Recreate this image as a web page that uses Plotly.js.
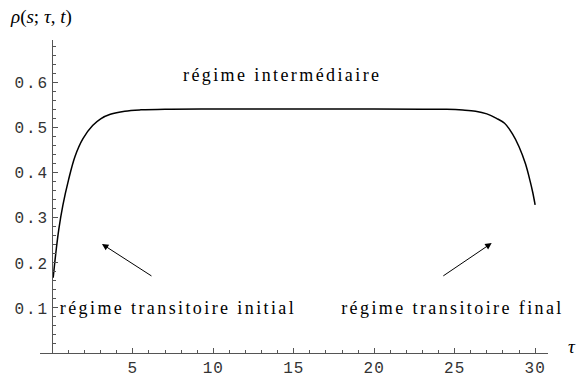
<!DOCTYPE html>
<html>
<head>
<meta charset="utf-8">
<script src="https://cdn.plot.ly/plotly-3.0.1.min.js"></script>
<style>
html,body{margin:0;padding:0;background:#fff;}
#chart{width:576px;height:378px;}
g.annotation[data-index="2"] text,
g.annotation[data-index="3"] text,
g.annotation[data-index="4"] text { letter-spacing: 2.4px; }
.xtick text { letter-spacing: 1px; }
.ytick text { letter-spacing: 2px; }
</style>
</head>
<body>
<div id="chart"></div>
<script>
// Curve data
const tau = [0.05, 0.2, 0.4, 0.65, 1.0, 1.4, 1.9, 2.5, 3.0, 3.6, 4.5, 5.5, 7, 10, 15, 20, 23, 24.5, 25.5, 26.3, 27.0, 27.6, 28.1, 28.6, 29.0, 29.4, 29.7, 29.85, 30.0];
const rho = [0.167, 0.218, 0.275, 0.328, 0.384, 0.436, 0.476, 0.505, 0.520, 0.530, 0.537, 0.540, 0.5415, 0.542, 0.542, 0.542, 0.5415, 0.541, 0.5395, 0.537, 0.531, 0.521, 0.510, 0.486, 0.458, 0.420, 0.380, 0.357, 0.329];

const xTickVals = [5, 10, 15, 20, 25, 30];
const xTickText = ['5', '10', '15', '20', '25', '30'];
const yTickVals = [0.1, 0.2, 0.3, 0.4, 0.5, 0.6];
const yTickText = ['0.1', '0.2', '0.3', '0.4', '0.5', '0.6'];

const xRange = [-0.77, 30.8];
const yRange = [0, 0.695];

const tickFont = {family: '"Liberation Mono", "DejaVu Sans Mono", monospace', size: 16, color: '#333'};
const textFont = {family: '"Liberation Serif", "DejaVu Serif", "Times New Roman", serif', size: 18, color: '#000'};
const titleFont = {family: '"Liberation Serif", "DejaVu Serif", "Times New Roman", serif', size: 19, color: '#000'};

const trace = {
  x: tau, y: rho, type: 'scatter', mode: 'lines',
  line: {color: '#000', width: 1.5, shape: 'spline', smoothing: 1},
  hoverinfo: 'none', cliponaxis: false
};

const layout = {
  width: 576, height: 378,
  margin: {l: 40, r: 28, t: 40, b: 25},
  paper_bgcolor: '#fff', plot_bgcolor: '#fff',
  showlegend: false,
  font: {family: '"Liberation Serif", serif'},
  xaxis: {
    range: xRange, showgrid: false, zeroline: false,
    showline: true, linecolor: '#555', linewidth: 1,
    tickvals: xTickVals, ticktext: xTickText,
    ticks: 'inside', ticklen: 5, tickcolor: '#555', tickwidth: 1,
    tickfont: tickFont,
    minor: {ticks: 'inside', ticklen: 3, dtick: 1, tick0: 0, tickcolor: '#555', tickwidth: 1, showgrid: false}
  },
  yaxis: {
    range: yRange, showgrid: false, zeroline: false,
    anchor: 'free', position: (0 - xRange[0]) / (xRange[1] - xRange[0]),
    showline: true, linecolor: '#555', linewidth: 1,
    tickvals: yTickVals, ticktext: yTickText,
    ticks: 'inside', ticklen: 5, tickcolor: '#555', tickwidth: 1,
    tickfont: tickFont,
    minor: {ticks: 'inside', ticklen: 3, dtick: 0.02, tick0: 0, tickcolor: '#555', tickwidth: 1, showgrid: false}
  },
  annotations: [
    {xref: 'paper', yref: 'paper', x: -0.063, y: 1.072, xanchor: 'left', yanchor: 'middle',
     text: '<i>ρ</i>(<i>s</i>; <i>τ</i>, <i>t</i>)', showarrow: false, font: titleFont},
    {xref: 'paper', yref: 'y', x: 1.035, y: 0.015, xanchor: 'left', yanchor: 'middle',
     text: '<i>τ</i>', showarrow: false, font: titleFont},
    {xref: 'x', yref: 'y', x: 14.3, y: 0.618, xanchor: 'center', yanchor: 'middle',
     text: 'régime intermédiaire', showarrow: false, font: textFont},
    {xref: 'x', yref: 'y', x: 7.8, y: 0.1, xanchor: 'center', yanchor: 'middle',
     text: 'régime transitoire initial', showarrow: false, font: textFont},
    {xref: 'x', yref: 'y', x: 24.85, y: 0.1, xanchor: 'center', yanchor: 'middle',
     text: 'régime transitoire final', showarrow: false, font: textFont},
    {xref: 'x', yref: 'y', x: 3.08, y: 0.242, axref: 'x', ayref: 'y', ax: 6.25, ay: 0.169,
     text: '', showarrow: true, arrowhead: 2, arrowsize: 1.3, arrowwidth: 1, arrowcolor: '#000', standoff: 0},
    {xref: 'x', yref: 'y', x: 27.3, y: 0.244, axref: 'x', ayref: 'y', ax: 24.2, ay: 0.169,
     text: '', showarrow: true, arrowhead: 2, arrowsize: 1.3, arrowwidth: 1, arrowcolor: '#000', standoff: 0}
  ]
};

Plotly.newPlot('chart', [trace], layout, {staticPlot: true, displayModeBar: false});
</script>
</body>
</html>
